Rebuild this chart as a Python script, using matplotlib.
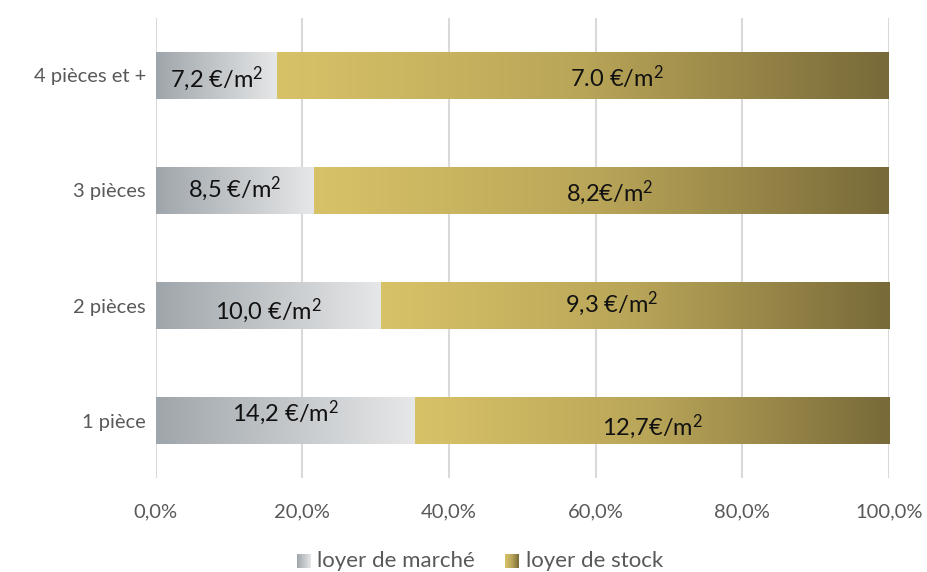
import numpy as np
import matplotlib.pyplot as plt
from matplotlib.colors import LinearSegmentedColormap
from matplotlib.patches import Rectangle

plt.rcParams['font.family'] = ['Lato', 'DejaVu Sans']
plt.rcParams['mathtext.fontset'] = 'custom'
plt.rcParams['mathtext.rm'] = 'Lato'
plt.rcParams['mathtext.it'] = 'Lato'
plt.rcParams['mathtext.default'] = 'rm'

categories = ["1 pièce", "2 pièces", "3 pièces", "4 pièces et +"]
part_marche = [35.3, 30.7, 21.6, 16.6]          # % de la barre
part_stock = [100 - p for p in part_marche]
loyer_marche = ["14,2 €/m$^2$", "10,0 €/m$^2$", "8,5 €/m$^2$", "7,2 €/m$^2$"]
loyer_stock = ["12,7€/m$^2$", "9,3 €/m$^2$", "8,2€/m$^2$", "7.0 €/m$^2$"]

# placement manuel des étiquettes
x_lab_stock = [67.7, 62.2, 61.9, 62.9]
dy_lab_marche = [0.07, -0.04, 0.02, -0.03]
dy_lab_stock = [-0.05, 0.02, -0.02, -0.02]

gris = LinearSegmentedColormap.from_list("gris", ["#9fa6ab", "#e6e7e8"])
or_ = LinearSegmentedColormap.from_list("or", ["#d8c268", "#b9a558", "#786a39"])
grad = np.linspace(0, 1, 256).reshape(1, -1)

fig = plt.figure(figsize=(9.27, 5.72), dpi=100)
ax = fig.add_axes([0.168, 0.164, 0.791, 0.805])

h = 0.41
for i, cat in enumerate(categories):
    m = part_marche[i]
    s = part_stock[i]
    im = ax.imshow(grad, cmap=gris, aspect="auto", extent=(0, m, i - h / 2, i + h / 2), zorder=2)
    r = Rectangle((0, i - h / 2), m, h, transform=ax.transData)
    im.set_clip_path(r)
    im2 = ax.imshow(grad, cmap=or_, aspect="auto", extent=(m, m + s, i - h / 2, i + h / 2), zorder=2)
    r2 = Rectangle((m, i - h / 2), s, h, transform=ax.transData)
    im2.set_clip_path(r2)
    ax.text(m / 2, i + dy_lab_marche[i], loyer_marche[i], ha="center", va="center",
            fontsize=17, color="#111111", zorder=3)
    ax.text(x_lab_stock[i], i + dy_lab_stock[i], loyer_stock[i], ha="center", va="center",
            fontsize=17, color="#111111", zorder=3)

ax.set_xlim(0, 100)
ax.set_ylim(-0.5, 3.5)
ax.set_xticks([0, 20, 40, 60, 80, 100])
ax.set_xticklabels(["0,0%", "20,0%", "40,0%", "60,0%", "80,0%", "100,0%"])
ax.set_yticks(range(len(categories)))
ax.set_yticklabels(categories)
ax.tick_params(length=0, labelsize=14.5, colors="#595959")
ax.tick_params(axis="y", pad=7)
ax.tick_params(axis="x", pad=18)
ax.grid(axis="x", color="#d9d9d9", linewidth=1.5, zorder=0)
ax.set_axisbelow(True)
for sp in ax.spines.values():
    sp.set_visible(False)

# légende avec carrés en dégradé
for x0, cmap, label in [(0.320, gris, "loyer de marché"), (0.545, or_, "loyer de stock")]:
    lax = fig.add_axes([x0, 0.007, 0.015, 0.024])
    lax.imshow(grad, cmap=cmap, aspect="auto")
    lax.axis("off")
    fig.text(x0 + 0.022, 0.019, label, fontsize=16, color="#595959", va="center")

fig.savefig("out.png", dpi=100)
